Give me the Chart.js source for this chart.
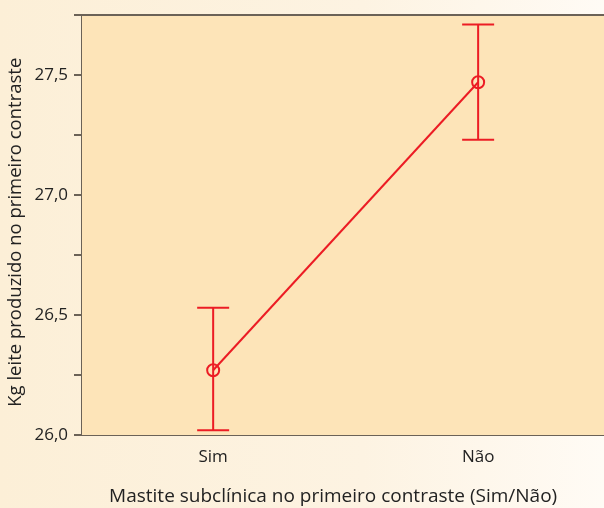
<!DOCTYPE html>
<html>
<head>
<meta charset="utf-8">
<script src="https://cdn.jsdelivr.net/npm/chart.js@4"></script>
<style>
  html, body { margin: 0; padding: 0; overflow: hidden; }
  body { width: 604px; height: 508px; background: linear-gradient(90deg, #fcefd7 0%, #fdf3e2 60%, #fffbf5 100%); }
  #wrap { width: 604px; height: 508px; }
</style>
</head>
<body>
<div id="wrap"><canvas id="meanChart" width="604" height="508"></canvas></div>
<script>
// categories and values
const categories = ["Sim", "Não"];
const means = [26.27, 27.47];
const lower = [26.02, 27.23];
const upper = [26.53, 27.71];

const red = "#ec1c24";
const axisColor = "#6b6257";
const fontFamily = "'Open Sans', 'Noto Sans', sans-serif";
const pad = "\u00a0";

const fmt = v => v.toFixed(1).replace(".", ",");

/* background of plot area + top border */
const frame = {
  id: "frame",
  beforeDatasetsDraw(chart) {
    const { ctx, chartArea: a } = chart;
    ctx.save();
    ctx.fillStyle = "#fde4b8";
    ctx.fillRect(a.left, a.top, a.right - a.left, a.bottom - a.top);
    ctx.restore();
  },
  afterDraw(chart) {
    const { ctx, chartArea: a } = chart;
    ctx.save();
    ctx.strokeStyle = axisColor;
    ctx.lineWidth = 2;
    ctx.beginPath();
    ctx.moveTo(a.left - 1, a.top);
    ctx.lineTo(a.right, a.top);
    ctx.stroke();
    ctx.restore();
  }
};

/* error bars from lower/upper arrays */
const errorBars = {
  id: "errorBars",
  beforeDatasetsDraw(chart) {
    const { ctx, scales: { x, y } } = chart;
    ctx.save();
    ctx.strokeStyle = red;
    ctx.lineWidth = 2;
    categories.forEach((c, i) => {
      const px = x.getPixelForValue(i);
      const lo = y.getPixelForValue(lower[i]);
      const hi = y.getPixelForValue(upper[i]);
      ctx.beginPath();
      ctx.moveTo(px, lo); ctx.lineTo(px, hi);
      ctx.moveTo(px - 16, lo); ctx.lineTo(px + 16, lo);
      ctx.moveTo(px - 16, hi); ctx.lineTo(px + 16, hi);
      ctx.stroke();
    });
    ctx.restore();
  }
};

const chart = new Chart(document.getElementById("meanChart"), {
  type: "line",
  data: {
    datasets: [{
      data: means.map((m, i) => ({ x: i, y: m })),
      borderColor: red,
      borderWidth: 2,
      backgroundColor: "transparent",
      pointRadius: 6,
      pointBorderWidth: 2,
      pointBorderColor: red,
      pointBackgroundColor: "transparent",
      tension: 0
    }]
  },
  plugins: [frame, errorBars],
  options: {
    responsive: false,
    animation: false,
    layout: { autoPadding: false, padding: { top: 15, right: 0, left: 0, bottom: 0 } },
    plugins: {
      legend: { display: false },
      tooltip: { enabled: false }
    },
    scales: {
      x: {
        type: "linear",
        min: -0.495,
        max: 1.475,
        afterBuildTicks(axis) {
          axis.ticks = categories.map((c, i) => ({ value: i }));
        },
        afterFit(axis) {
          axis.height = 73;
          axis.paddingLeft = 0;
          axis.paddingRight = 0;
        },
        ticks: {
          callback: v => categories[v],
          color: "#222",
          font: { family: fontFamily, size: 17 },
          padding: 12,
          maxRotation: 0
        },
        grid: { display: false, drawTicks: false },
        border: { display: true, color: axisColor, width: 2 },
        title: {
          display: true,
          text: "Mastite subclínica no primeiro contraste (Sim/Não)" + pad.repeat(4),
          color: "#222",
          font: { family: fontFamily, size: 19 },
          padding: { top: 0, bottom: 0 }
        }
      },
      y: {
        min: 26.0,
        max: 27.75,
        afterFit(axis) {
          axis.width = 82;
          axis.paddingTop = 0;
          axis.paddingBottom = 0;
        },
        ticks: {
          stepSize: 0.25,
          autoSkip: false,
          callback: v => (Math.round(v * 100) % 50 === 0 && v < 27.7) ? fmt(v) : "",
          color: "#222",
          font: { family: fontFamily, size: 17 },
          padding: 6
        },
        grid: {
          drawOnChartArea: false,
          drawTicks: true,
          tickLength: 8,
          color: axisColor,
          lineWidth: 2
        },
        border: { display: true, color: axisColor, width: 2 },
        title: {
          display: true,
          text: "Kg leite produzido no primeiro contraste" + pad.repeat(3),
          color: "#222",
          font: { family: fontFamily, size: 18.5 },
          padding: { top: 5, bottom: 0 }
        }
      }
    }
  }
});
</script>
</body>
</html>
